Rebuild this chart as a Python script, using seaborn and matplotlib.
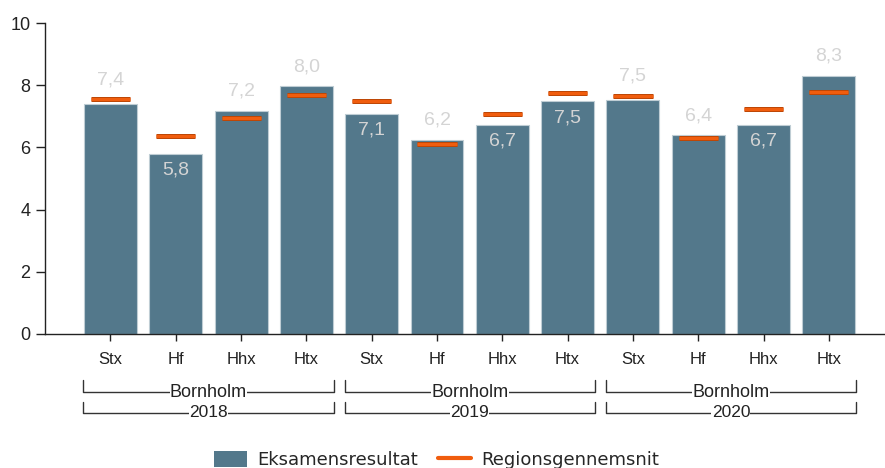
import pandas as pd
import matplotlib
matplotlib.use("Agg")
import matplotlib.pyplot as plt
import matplotlib.patheffects as pe
from matplotlib.patches import Patch
from matplotlib.lines import Line2D
import seaborn as sns

# Data
school_types = ["Stx", "Hf", "Hhx", "Htx"]
years = ["2018", "2019", "2020"]
region = "Bornholm"
results = [7.38, 5.79, 7.17, 7.97,
           7.08, 6.24, 6.72, 7.48,
           7.52, 6.39, 6.72, 8.31]
region_avg = [7.55, 6.37, 6.95, 7.68,
              7.50, 6.11, 7.06, 7.76,
              7.65, 6.31, 7.24, 7.79]

bar_color = "#53788b"
avg_color = "#f05d0e"

df = pd.DataFrame({
    "slot": [f"{t} {y}" for y in years for t in school_types],
    "type": [t for y in years for t in school_types],
    "year": [y for y in years for t in school_types],
    "Eksamensresultat": results,
    "Regionsgennemsnit": region_avg,
})

sns.set_style("white")
plt.rcParams["font.family"] = ["Liberation Sans", "DejaVu Sans"]

fig = plt.figure(figsize=(8.85, 4.68), dpi=100)
ax = fig.add_axes([45 / 885, 1 - 334 / 468, 840 / 885, 311 / 468])

sns.barplot(data=df, x="slot", y="Eksamensresultat", color=bar_color,
            saturation=1, width=0.81, edgecolor="#bfcdd4", linewidth=0.8, ax=ax)

# regional average markers
for i, avg in enumerate(df["Regionsgennemsnit"]):
    ax.hlines(avg, i - 0.3, i + 0.3, color=avg_color, lw=2.3, capstyle="butt",
              path_effects=[pe.Stroke(linewidth=3.6, foreground="#b94506"), pe.Normal()],
              zorder=4)

# value labels
for i, (v, avg) in enumerate(zip(df["Eksamensresultat"], df["Regionsgennemsnit"])):
    txt = f"{v:.1f}".replace(".", ",")
    if avg - v > 0.2:
        y = v - 0.52
    else:
        y = max(v, avg) + 0.63
    ax.text(i, y, txt, ha="center", va="center", fontsize=14, color="#d4d4d4", zorder=5)

ax.set_xlim(-1.003, 11.86)
ax.set_ylim(0, 10)
ax.set_yticks([0, 2, 4, 6, 8, 10])
ax.set_xticks(range(len(df)))
ax.set_xticklabels(df["type"])
ax.tick_params(axis="y", labelsize=13, length=6.5, width=1, color="#222222", labelcolor="#222222", pad=4)
ax.tick_params(axis="x", labelsize=12, length=5, width=1, color="#222222", labelcolor="#222222", pad=8)
ax.tick_params(left=True, bottom=True)
ax.set_xlabel("")
ax.set_ylabel("")
for side in ["top", "right"]:
    ax.spines[side].set_visible(False)
for side in ["left", "bottom"]:
    ax.spines[side].set_color("#222222")
    ax.spines[side].set_linewidth(1)

# group brackets (region and year)
trans = ax.get_xaxis_transform()
levels = [(-0.148, -0.1865), (-0.219, -0.254)]
for g, year in enumerate(years):
    center = g * 4 + 1.5
    x0, x1 = center - 1.915, center + 1.915
    for (ytop, ybot), label in zip(levels, [region, year]):
        ax.plot([x0, x0, x1, x1], [ytop, ybot, ybot, ytop], color="#333333",
                lw=1, transform=trans, clip_on=False)
        ax.text(center, ybot, label, ha="center", va="center", fontsize=13 if label == region else 12.5,
                color="#222222", transform=trans,
                bbox=dict(facecolor="white", edgecolor="none", pad=0.3))

handles = [Patch(facecolor=bar_color, edgecolor="none"),
           Line2D([], [], color=avg_color, lw=3)]
fig.legend(handles, ["Eksamensresultat", "Regionsgennemsnit"], loc="upper left",
           bbox_to_anchor=(214 / 885, 1 - 451 / 468), ncol=2, frameon=False,
           prop={"family": "DejaVu Sans", "size": 13}, handlelength=1.85,
           handleheight=1.0, handletextpad=0.55, columnspacing=1.1,
           borderpad=0, borderaxespad=0)

fig.savefig("out.png", dpi=100)
